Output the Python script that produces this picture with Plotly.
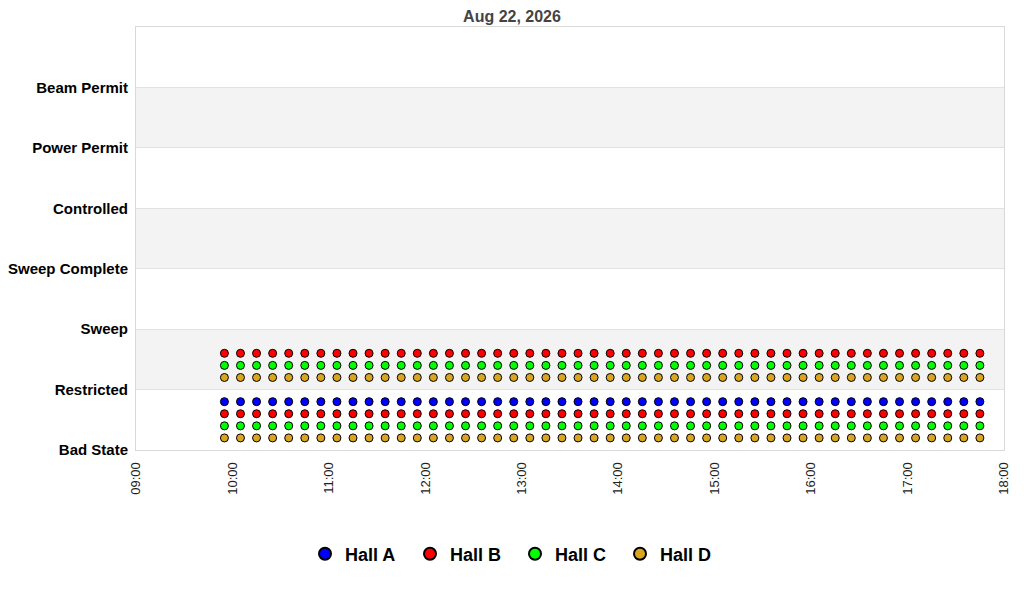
import plotly.graph_objects as go

# sample times (every 10 minutes)
times = [
    "2026-08-22 09:55", "2026-08-22 10:05", "2026-08-22 10:15", "2026-08-22 10:25",
    "2026-08-22 10:35", "2026-08-22 10:45", "2026-08-22 10:55", "2026-08-22 11:05",
    "2026-08-22 11:15", "2026-08-22 11:25", "2026-08-22 11:35", "2026-08-22 11:45",
    "2026-08-22 11:55", "2026-08-22 12:05", "2026-08-22 12:15", "2026-08-22 12:25",
    "2026-08-22 12:35", "2026-08-22 12:45", "2026-08-22 12:55", "2026-08-22 13:05",
    "2026-08-22 13:15", "2026-08-22 13:25", "2026-08-22 13:35", "2026-08-22 13:45",
    "2026-08-22 13:55", "2026-08-22 14:05", "2026-08-22 14:15", "2026-08-22 14:25",
    "2026-08-22 14:35", "2026-08-22 14:45", "2026-08-22 14:55", "2026-08-22 15:05",
    "2026-08-22 15:15", "2026-08-22 15:25", "2026-08-22 15:35", "2026-08-22 15:45",
    "2026-08-22 15:55", "2026-08-22 16:05", "2026-08-22 16:15", "2026-08-22 16:25",
    "2026-08-22 16:35", "2026-08-22 16:45", "2026-08-22 16:55", "2026-08-22 17:05",
    "2026-08-22 17:15", "2026-08-22 17:25", "2026-08-22 17:35", "2026-08-22 17:45",
]

# y tick labels (state levels 0..6)
states = ["Bad State", "Restricted", "Sweep", "Sweep Complete",
          "Controlled", "Power Permit", "Beam Permit"]

# plotted levels per hall (state + hall offset)
halls = ["Hall A", "Hall B", "Hall C", "Hall D"]
hall_levels = {
    "Hall A": [0.8],
    "Hall B": [0.6, 1.6],
    "Hall C": [0.4, 1.4],
    "Hall D": [0.2, 1.2],
}
hall_colors = {
    "Hall A": "#0000ff",
    "Hall B": "#ff0000",
    "Hall C": "#00ff00",
    "Hall D": "#daa520",
}

fig = go.Figure()

for hall in halls:
    for i, level in enumerate(hall_levels[hall]):
        fig.add_trace(go.Scatter(
            x=times,
            y=[level] * len(times),
            mode="markers",
            name=hall,
            legendgroup=hall,
            showlegend=(i == 0),
            marker=dict(size=8, color=hall_colors[hall],
                        line=dict(color="black", width=1)),
        ))

# alternating gray bands
shapes = []
for lo in [1, 3, 5]:
    shapes.append(dict(type="rect", xref="paper", yref="y", x0=0, x1=1,
                       y0=lo, y1=lo + 1, fillcolor="#f3f3f3",
                       line=dict(width=0), layer="below"))

# page has an 8px body offset, margins compensate for it
fig.update_layout(
    width=1024, height=600,
    margin=dict(l=128, r=28, t=19, b=158),
    paper_bgcolor="white", plot_bgcolor="white",
    font=dict(family="Liberation Sans, Arial, sans-serif", color="black"),
    title=dict(text="<b>Aug 22, 2026</b>", x=504 / 1024, xanchor="center",
               y=1 - 8 / 600, yanchor="middle",
               font=dict(size=16, color="#444444")),
    shapes=shapes,
    showlegend=True,
    legend=dict(orientation="h", x=(507 - 128) / 868, xanchor="center",
                y=-(546 - 442) / 423, yanchor="middle", entrywidth=60,
                font=dict(size=18, weight="bold"), itemsizing="constant"),
    xaxis=dict(
        type="date",
        range=["2026-08-22 09:00", "2026-08-22 18:00"],
        dtick=3600000, tickformat="%H:%M", tickangle=-90,
        showgrid=False, zeroline=False,
        showline=True, linecolor="#d9d9d9", mirror=True,
        ticks="", ticklabelstandoff=6, tickfont=dict(size=13, color="#222222"),
    ),
    yaxis=dict(
        range=[0, 7], automargin=False,
        tickvals=list(range(len(states))),
        ticktext=["<b>%s</b>" % s for s in states],
        showgrid=True, gridcolor="#e2e2e2", zeroline=False,
        showline=True, linecolor="#d9d9d9", mirror=True,
        ticks="", ticklabelstandoff=4, tickfont=dict(size=15, color="black"),
    ),
)

fig.write_html("out.html")
